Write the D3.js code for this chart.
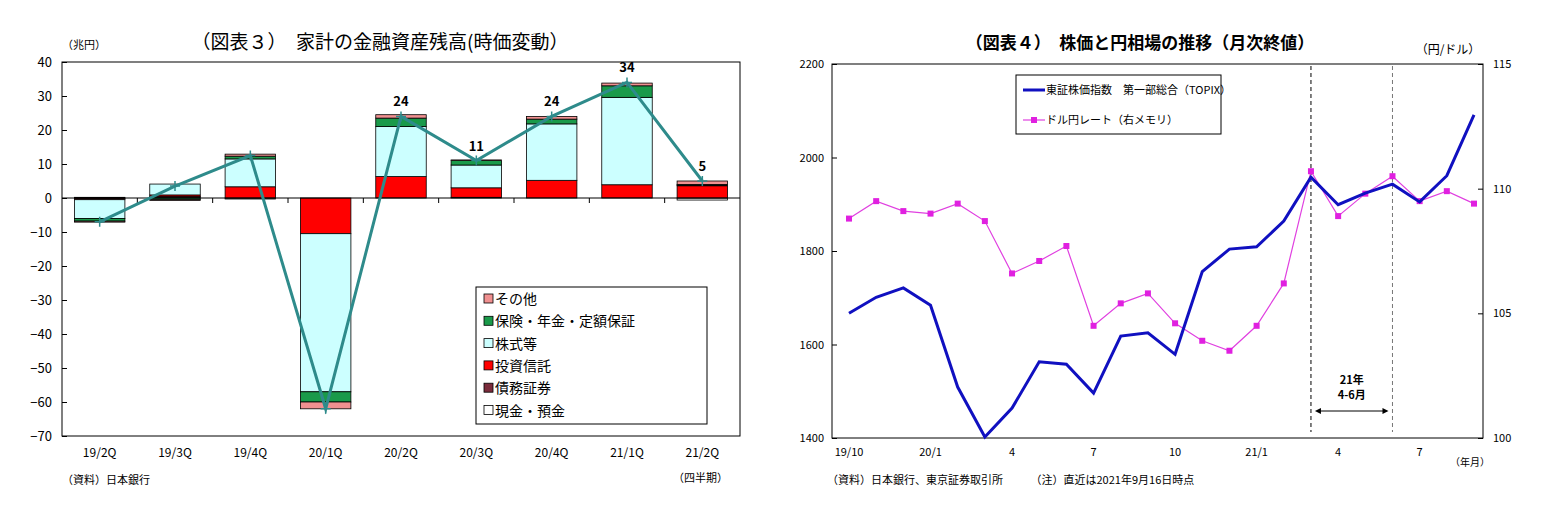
<!DOCTYPE html>
<html><head><meta charset="utf-8">
<script src="https://cdn.jsdelivr.net/npm/d3@7"></script>
<style>body{margin:0;background:#fff;font-family:"Noto Sans CJK JP",sans-serif;}</style>
</head><body><svg width="1549" height="527"></svg>
<script>
// 図表3 data
const quarters = ["19/2Q","19/3Q","19/4Q","20/1Q","20/2Q","20/3Q","20/4Q","21/1Q","21/2Q"];
const cash      = [0.2, 0.3, -0.3, 0, 0, 0.2, 0, 0, -0.6];
const debt      = [-0.2, 0.1, 0, 0, 0, 0, 0, 0, 0];
const trust     = [-0.3, 0.5, 3.3, -10.5, 6.3, 2.8, 5.2, 3.9, 3.6];
const stocks    = [-5.5, 3.2, 8.2, -46.5, 14.7, 6.7, 16.6, 25.7, 0.2];
const insurance = [-0.8, -0.5, 0.8, -3, 2.5, 1.3, 1.4, 3.4, 0.2];
const others    = [-0.3, -0.2, 0.6, -2, 1, 0.2, 0.8, 0.8, 1.0];
const totals    = [-7, 3.5, 12.5, -62, 24, 11, 24, 34, 5];
const totalLabels = [null, null, null, null, "24", "11", "24", "34", "5"];
const leftTicks = [40,30,20,10,0,-10,-20,-30,-40,-50,-60,-70];

// 図表4 data
const months = ["19/10","","","20/1","","","4","","","7","","","10","","","21/1","","","4","","","7","",""];
const topix = [1667,1701,1721,1684,1509,1402,1464,1563,1558,1496,1618,1625,1579,1756,1804,1809,1864,1958,1899,1924,1943,1905,1961,2091];
const usdjpy = [108.8,109.5,109.1,109.0,109.4,108.7,106.6,107.1,107.7,104.5,105.4,105.8,104.6,103.9,103.5,104.5,106.2,110.7,108.9,109.8,110.5,109.5,109.9,109.4];
const topixTicks = [1400,1600,1800,2000,2200];
const yenTicks = [100,105,110,115];

const svg = d3.select("svg");
const font = "Noto Sans CJK JP";

// ---------- left chart ----------
{
  const m = {left: 62, right: 740, top: 62, bottom: 436};
  const x = d3.scaleBand().domain(quarters).range([m.left, m.right]).paddingInner(0.33).paddingOuter(0.165);
  const y = d3.scaleLinear().domain([-70, 40]).range([m.bottom, m.top]);
  const keys = ["cash","debt","trust","stocks","insurance","others"];
  const colors = {cash:"#ffffff", debt:"#7b2c3c", trust:"#ff0000", stocks:"#ccffff", insurance:"#1a9a4a", others:"#f09090"};
  const names = {cash:"現金・預金", debt:"債務証券", trust:"投資信託", stocks:"株式等", insurance:"保険・年金・定額保証", others:"その他"};
  const rows = quarters.map((q, i) => ({q, cash: cash[i], debt: debt[i], trust: trust[i], stocks: stocks[i], insurance: insurance[i], others: others[i]}));
  const series = d3.stack().keys(keys).offset(d3.stackOffsetDiverging)(rows);
  const g = svg.append("g");
  const cx = q => x(q) + x.bandwidth() / 2;

  g.append("rect").attr("x", m.left).attr("y", m.top).attr("width", m.right - m.left).attr("height", m.bottom - m.top)
    .attr("fill", "none").attr("stroke", "#000");

  series.forEach(s => {
    g.selectAll(null).data(s.filter(d => d[0] !== d[1])).join("rect")
      .attr("x", d => x(d.data.q)).attr("width", x.bandwidth())
      .attr("y", d => y(Math.max(d[0], d[1]))).attr("height", d => Math.abs(y(d[0]) - y(d[1])))
      .attr("fill", colors[s.key]).attr("stroke", "#000").attr("stroke-width", 0.8);
  });

  g.append("line").attr("x1", m.left).attr("x2", m.right).attr("y1", y(0)).attr("y2", y(0)).attr("stroke", "#000");
  g.selectAll(null).data(quarters.slice(1)).join("line")
    .attr("x1", d => x(d) - x.step() * x.paddingInner() / 2).attr("x2", d => x(d) - x.step() * x.paddingInner() / 2)
    .attr("y1", y(0)).attr("y2", y(0) + 5).attr("stroke", "#000");

  const yAxis = g.append("g").attr("transform", `translate(${m.left},0)`)
    .call(d3.axisLeft(y).tickValues(leftTicks).tickSize(-5).tickPadding(10));
  yAxis.select(".domain").remove();
  yAxis.selectAll("text").attr("font-family", font).attr("font-size", 13).attr("fill", "#000");

  g.selectAll(null).data(quarters).join("text")
    .attr("x", d => cx(d)).attr("y", 457).attr("text-anchor", "middle")
    .attr("font-family", font).attr("font-size", 12).text(d => d);

  const pts = quarters.map((q, i) => ({q, v: totals[i], label: totalLabels[i]}));
  g.append("path").datum(pts).attr("d", d3.line().x(d => cx(d.q)).y(d => y(d.v)))
    .attr("fill", "none").attr("stroke", "#2e8b8b").attr("stroke-width", 3);
  g.selectAll(null).data(pts).join("path")
    .attr("d", d => `M${cx(d.q) - 5},${y(d.v)}H${cx(d.q) + 5}M${cx(d.q)},${y(d.v) - 5}V${y(d.v) + 5}`)
    .attr("stroke", "#2e8b8b").attr("stroke-width", 1.5);
  g.selectAll(null).data(pts.filter(d => d.label)).join("text")
    .attr("x", d => cx(d.q)).attr("y", d => y(d.v) - 10)
    .attr("text-anchor", "middle").attr("font-family", font).attr("font-size", 13).attr("font-weight", "bold")
    .text(d => d.label);

  // legend
  const lg = g.append("g");
  lg.append("rect").attr("x", 476).attr("y", 287).attr("width", 231).attr("height", 137).attr("fill", "#fff").attr("stroke", "#000");
  keys.slice().reverse().forEach((k, i) => {
    const ly = 299 + i * 22.3;
    lg.append("rect").attr("x", 484).attr("y", ly - 5).attr("width", 9).attr("height", 9).attr("fill", colors[k]).attr("stroke", "#000").attr("stroke-width", 0.8);
    lg.append("text").attr("x", 495).attr("y", ly + 5).attr("font-family", font).attr("font-size", 14).text(names[k]);
  });

  svg.append("text").attr("x", 62).attr("y", 49).attr("font-family", font).attr("font-size", 11).text("（兆円）");
  svg.append("text").attr("x", 380).attr("y", 49).attr("text-anchor", "middle").attr("font-family", font).attr("font-size", 19).text("（図表３）　家計の金融資産残高(時価変動）");
  svg.append("text").attr("x", 62).attr("y", 484).attr("font-family", font).attr("font-size", 11).text("（資料）日本銀行");
  svg.append("text").attr("x", 728).attr("y", 482).attr("text-anchor", "end").attr("font-family", font).attr("font-size", 11).text("（四半期）");
}

// ---------- right chart ----------
{
  const m = {left: 832, right: 1483, top: 64, bottom: 438};
  const x = d3.scalePoint().domain(d3.range(months.length)).range([849, 1474]);
  const yL = d3.scaleLinear().domain([1400, 2200]).range([m.bottom, m.top]);
  const yR = d3.scaleLinear().domain([100, 115]).range([m.bottom, m.top]);
  const g = svg.append("g");

  g.append("rect").attr("x", m.left).attr("y", m.top).attr("width", m.right - m.left).attr("height", m.bottom - m.top)
    .attr("fill", "none").attr("stroke", "#000");

  const aL = g.append("g").attr("transform", `translate(${m.left},0)`)
    .call(d3.axisLeft(yL).tickValues(topixTicks).tickSize(-5).tickPadding(8).tickFormat(d3.format("d")));
  const aR = g.append("g").attr("transform", `translate(${m.right},0)`)
    .call(d3.axisRight(yR).tickValues(yenTicks).tickSize(-5).tickPadding(10));
  [aL, aR].forEach(a => { a.select(".domain").remove(); a.selectAll("text").attr("font-family", font).attr("font-size", 11).attr("fill", "#000"); });

  const monthRows = months.map((lab, i) => ({i, lab})).filter(d => d.lab);
  g.selectAll(null).data(monthRows).join("text")
    .attr("x", d => x(d.i)).attr("y", 456).attr("text-anchor", "middle")
    .attr("font-family", font).attr("font-size", 11).text(d => d.lab);
  svg.append("text").attr("x", 1470).attr("y", 466).attr("text-anchor", "middle").attr("font-family", font).attr("font-size", 10).text("（年月）");

  // 4-6月 markers
  g.append("line").attr("x1", x(17)).attr("x2", x(17)).attr("y1", 66).attr("y2", 432).attr("stroke", "#000").attr("stroke-dasharray", "4,3");
  g.append("line").attr("x1", x(20)).attr("x2", x(20)).attr("y1", 66).attr("y2", 432).attr("stroke", "#777").attr("stroke-dasharray", "4,3");
  g.append("line").attr("x1", x(17) + 6).attr("x2", x(20) - 6).attr("y1", 411).attr("y2", 411).attr("stroke", "#000");
  g.append("path").attr("d", `M${x(17) + 4},411l6,-3v6zM${x(20) - 4},411l-6,-3v6z`).attr("fill", "#000");
  g.append("text").attr("x", (x(17) + x(20)) / 2).attr("y", 384).attr("text-anchor", "middle").attr("font-family", font).attr("font-size", 11).attr("font-weight", "bold").text("21年");
  g.append("text").attr("x", (x(17) + x(20)) / 2).attr("y", 399).attr("text-anchor", "middle").attr("font-family", font).attr("font-size", 11).attr("font-weight", "bold").text("4-6月");

  g.append("path").datum(usdjpy).attr("d", d3.line().x((d, i) => x(i)).y(d => yR(d)))
    .attr("fill", "none").attr("stroke", "#e040e0").attr("stroke-width", 1.2);
  g.selectAll(null).data(usdjpy).join("rect")
    .attr("x", (d, i) => x(i) - 3).attr("y", d => yR(d) - 3).attr("width", 6).attr("height", 6).attr("fill", "#e020e0");
  g.append("path").datum(topix).attr("d", d3.line().x((d, i) => x(i)).y(d => yL(d)))
    .attr("fill", "none").attr("stroke", "#1010c0").attr("stroke-width", 3);

  // legend
  g.append("rect").attr("x", 1016).attr("y", 75).attr("width", 205).attr("height", 59).attr("fill", "#fff").attr("stroke", "#000");
  g.append("line").attr("x1", 1023).attr("x2", 1045).attr("y1", 90).attr("y2", 90).attr("stroke", "#1010c0").attr("stroke-width", 3);
  g.append("text").attr("x", 1046).attr("y", 94).attr("font-family", font).attr("font-size", 11).text("東証株価指数　第一部総合（TOPIX）");
  g.append("line").attr("x1", 1023).attr("x2", 1045).attr("y1", 120).attr("y2", 120).attr("stroke", "#e040e0").attr("stroke-width", 1.2);
  g.append("rect").attr("x", 1031).attr("y", 117).attr("width", 6).attr("height", 6).attr("fill", "#e020e0");
  g.append("text").attr("x", 1046).attr("y", 124).attr("font-family", font).attr("font-size", 11).text("ドル円レート（右メモリ）");

  svg.append("text").attr("x", 1140).attr("y", 49).attr("text-anchor", "middle").attr("font-family", font).attr("font-size", 17).attr("font-weight", "bold").text("（図表４）　株価と円相場の推移（月次終値）");
  svg.append("text").attr("x", 1448).attr("y", 54).attr("text-anchor", "middle").attr("font-family", font).attr("font-size", 12).text("（円/ドル）");
  svg.append("text").attr("x", 827).attr("y", 484).attr("font-family", font).attr("font-size", 11).text("（資料）日本銀行、東京証券取引所　　　（注）直近は2021年9月16日時点");
}
</script></body></html>
